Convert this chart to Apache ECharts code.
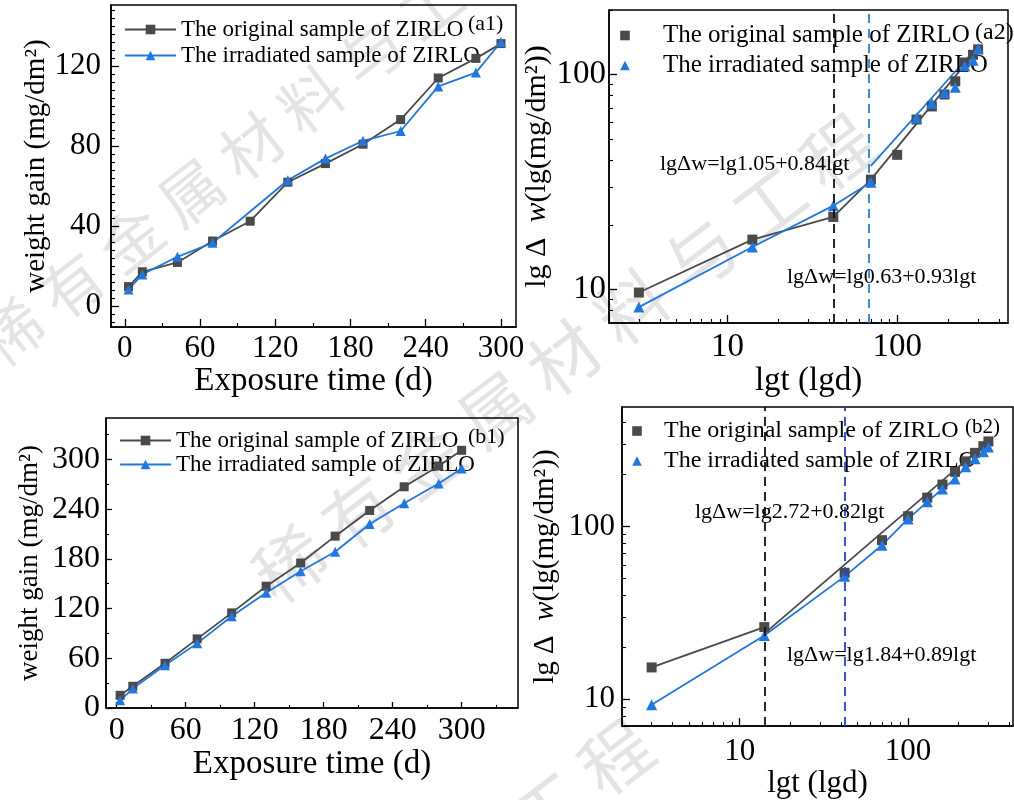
<!DOCTYPE html>
<html>
<head>
<meta charset="utf-8">
<script src="https://cdn.jsdelivr.net/npm/echarts@6/dist/echarts.min.js"></script>
<style>
html, body { margin: 0; padding: 0; background: #fff; }
#main { width: 1014px; height: 800px; }
</style>
</head>
<body>
<div id="main"></div>
<script>
// 暴露时间 (d)
var days = [3, 14, 42, 70, 100, 130, 160, 190, 220, 250, 280, 300];
// (a1)(a2) 增重 mg/dm2
var gainA_orig = [9.7, 17.1, 21.8, 32.5, 42.4, 61.9, 71.2, 80.9, 93.2, 114, 123.8, 131.2];
var gainA_irr = [8.3, 15.8, 24.6, 31.6, null, 62.9, 73.7, 82.6, 87.5, 109.8, 116.7, 132];
// (b1)(b2) 增重 mg/dm2
var gainB_orig = [15.3, 26.2, 54, 83.4, 114.8, 147, 175, 207.4, 238.4, 267, 292, 311];
var gainB_irr = [9.3, 23.4, 51.5, 78, 110.7, 139, 165, 188.5, 222, 247, 271, 289];

// 双对数图中的折线/拟合线
var fitA_orig_t = [3, 14, 42, 70, 300];
var fitA_orig_w = [9.7, 17.1, 21.8, 32.5, 133];
var fitA_irr_t = [3, 14, 42, 70];
var fitA_irr_w = [8.3, 15.8, 24.6, 31.6];
var fitA_irr2_t = [70, 300];
var fitA_irr2_w = [37.7, 136];
var fitB_orig_t = [3, 14];
var fitB_orig_w = [15.3, 26.2];
var fitB_orig2_t = [14, 300];
var fitB_orig2_w = [24, 312];

// 转折点虚线
var splitA = [42, 68];
var splitB = [14, 42];

// 刻度
var ticksX_lin = [0, 60, 120, 180, 240, 300];
var ticksYa1 = [0, 40, 80, 120];
var ticksYb1 = [0, 60, 120, 180, 240, 300];
var ticksLog = [10, 100];

var legendNames = ['The original sample of ZIRLO', 'The irradiated sample of ZIRLO'];
var panelTags = ['(a1)', '(a2)', '(b1)', '(b2)'];
var equations = ['lgΔw=lg1.05+0.84lgt', 'lgΔw=lg0.63+0.93lgt', 'lgΔw=lg2.72+0.82lgt', 'lgΔw=lg1.84+0.89lgt'];

var FONT = "'Liberation Serif', 'Times New Roman', serif";
var BLACK = '#4a4a4a';
var BLUE = '#1f78e2';

function pairs(xs, ys) {
  var out = [];
  for (var i = 0; i < xs.length; i++) {
    if (ys[i] != null) out.push([xs[i], ys[i]]);
  }
  return out;
}
function minorLin(min, max, step, majors) {
  var out = [];
  for (var v = Math.ceil(min / step) * step; v <= max; v += step) {
    if (majors.indexOf(v) < 0) out.push(v);
  }
  return out;
}
function minorLog(min, max) {
  var out = [];
  for (var p = 1; p <= 1000; p *= 10) {
    for (var k = 2; k <= 9; k++) {
      var v = k * p / 10;
      if (v >= min && v <= max) out.push(v);
    }
  }
  return out;
}

// 主轴（大刻度+标签）
function mainAxis(grid, pos, type, min, max, majors, o) {
  return {
    gridIndex: grid, position: pos, type: type, min: min, max: max, logBase: 10,
    axisLine: { show: true, onZero: false, lineStyle: { color: '#000', width: 1.5 } },
    axisTick: { inside: true, length: o.tickLen || 8, customValues: majors, lineStyle: { color: '#000', width: 1.3 } },
    axisLabel: { customValues: majors, color: '#000', fontFamily: FONT, fontSize: o.labelSize, margin: o.margin },
    splitLine: { show: false },
    name: o.name, nameLocation: 'middle', nameGap: o.nameGap,
    nameTextStyle: o.nameStyle
  };
}
// 叠加轴（小刻度）
function minorAxis(grid, pos, type, min, max, minors, len) {
  return {
    gridIndex: grid, position: pos, type: type, min: min, max: max, logBase: 10,
    axisLine: { show: false, onZero: false },
    axisTick: { inside: true, length: len, customValues: minors, lineStyle: { color: '#000', width: 1.1 } },
    axisLabel: { show: false },
    splitLine: { show: false }
  };
}

var grids = [
  { left: 111, right: 498, top: 5, bottom: 473 },
  { left: 609, right: 6, top: 10, bottom: 477 },
  { left: 106, right: 496, top: 418, bottom: 92 },
  { left: 622, right: 1, top: 407, bottom: 69 }
];
grids.forEach(function (g) { g.show = true; g.borderColor = '#000'; g.borderWidth = 1.5; g.backgroundColor = 'transparent'; });

var xName = { color: '#000', fontFamily: FONT, fontSize: 33 };
var yNameLin = function (s) { return { color: '#000', fontFamily: FONT, fontSize: s }; };
var yNameLog = function (s) {
  return {
    color: '#000', fontFamily: FONT, fontSize: s,
    rich: {
      n: { fontFamily: FONT, fontSize: s, color: '#000' },
      i: { fontFamily: FONT, fontSize: s, color: '#000', fontStyle: 'italic' }
    }
  };
};
var logYName = '{n|lg Δ  }{i|w}{n|(lg(mg/dm²))}';

var xAxes = [
  mainAxis(0, 'bottom', 'value', -11, 312, ticksX_lin, { labelSize: 31, margin: 6, name: 'Exposure time (d)', nameGap: 34, nameStyle: xName }),
  mainAxis(1, 'bottom', 'log', 2, 450, ticksLog, { labelSize: 33, margin: 8, name: 'lgt (lgd)', nameGap: 40, nameStyle: xName }),
  mainAxis(2, 'bottom', 'value', -9.3, 349, ticksX_lin, { labelSize: 32, tickLen: 6, margin: 7, name: 'Exposure time (d)', nameGap: 40, nameStyle: xName }),
  mainAxis(3, 'bottom', 'log', 2, 420, ticksLog, { labelSize: 31, margin: 10, name: 'lgt (lgd)', nameGap: 37, nameStyle: { color: '#000', fontFamily: FONT, fontSize: 31 } }),
  minorAxis(0, 'bottom', 'value', -11, 312, minorLin(-11, 312, 30, ticksX_lin), 4),
  minorAxis(1, 'bottom', 'log', 2, 450, minorLog(2, 450), 4),
  minorAxis(2, 'bottom', 'value', -9.3, 349, minorLin(-9.3, 349, 30, ticksX_lin), 3),
  minorAxis(3, 'bottom', 'log', 2, 420, minorLog(2, 420), 4)
];
var yAxes = [
  mainAxis(0, 'left', 'value', -10.5, 150.5, ticksYa1, { labelSize: 31, margin: 10, name: 'weight gain (mg/dm²)', nameGap: 58, nameStyle: yNameLin(29) }),
  mainAxis(1, 'left', 'log', 7, 200, ticksLog, { labelSize: 33, margin: 3, name: logYName, nameGap: 50, nameStyle: yNameLog(30) }),
  mainAxis(2, 'left', 'value', 0, 350, ticksYb1, { labelSize: 32, tickLen: 6, margin: 6, name: 'weight gain (mg/dm²)', nameGap: 63, nameStyle: yNameLin(27) }),
  mainAxis(3, 'left', 'log', 7, 492, ticksLog, { labelSize: 31, margin: 7, name: logYName, nameGap: 62, nameStyle: yNameLog(29) }),
  minorAxis(0, 'left', 'value', -10.5, 150.5, minorLin(-10.5, 150.5, 4, ticksYa1), 4),
  minorAxis(1, 'left', 'log', 7, 200, minorLog(7, 200), 4),
  minorAxis(2, 'left', 'value', 0, 350, minorLin(0, 350, 30, ticksYb1), 3),
  minorAxis(3, 'left', 'log', 7, 492, minorLog(7, 492), 4)
];

// 带标记的数据序列
function markSeries(id, grid, xs, ys, shape, size, color, withLine) {
  return {
    id: id, name: id, type: 'line', xAxisIndex: grid, yAxisIndex: grid,
    data: pairs(xs, ys), symbol: shape, symbolSize: size, showSymbol: true,
    itemStyle: { color: color }, z: 4,
    lineStyle: { color: color, width: withLine ? 1.8 : 0 },
    emphasis: { disabled: true }, animation: false
  };
}
function fitSeries(id, grid, xs, ys, color) {
  return {
    id: id, type: 'line', xAxisIndex: grid, yAxisIndex: grid,
    data: pairs(xs, ys), symbol: 'none', z: 3,
    lineStyle: { color: color, width: 1.8 }, animation: false
  };
}
function dashLines(id, grid, xs) {
  return {
    id: id, type: 'line', xAxisIndex: grid, yAxisIndex: grid, data: [], animation: false,
    markLine: {
      silent: true, symbol: ['none', 'none'], label: { show: false }, animation: false,
      data: [
        { xAxis: xs[0], lineStyle: { color: '#111', type: [9, 6], width: 1.8 } },
        { xAxis: xs[1], lineStyle: { color: id === 'dashA' ? '#2a7fe0' : '#2040e8', type: [9, 6], width: 1.8 } }
      ]
    }
  };
}

var series = [
  markSeries('a1o', 0, days, gainA_orig, 'rect', 9, BLACK, true),
  markSeries('a1i', 0, days, gainA_irr, 'triangle', 10, BLUE, true),
  fitSeries('a2of', 1, fitA_orig_t, fitA_orig_w, BLACK),
  fitSeries('a2if', 1, fitA_irr_t, fitA_irr_w, BLUE),
  fitSeries('a2if2', 1, fitA_irr2_t, fitA_irr2_w, BLUE),
  dashLines('dashA', 1, splitA),
  markSeries('a2o', 1, days, gainA_orig, 'rect', 10, BLACK, false),
  markSeries('a2i', 1, days, gainA_irr, 'triangle', 11, BLUE, false),
  markSeries('b1o', 2, days, gainB_orig, 'rect', 9, BLACK, true),
  markSeries('b1i', 2, days, gainB_irr, 'triangle', 10, BLUE, true),
  fitSeries('b2of', 3, fitB_orig_t, fitB_orig_w, BLACK),
  fitSeries('b2of2', 3, fitB_orig2_t, fitB_orig2_w, BLACK),
  fitSeries('b2if', 3, days, gainB_irr, BLUE),
  dashLines('dashB', 3, splitB),
  markSeries('b2o', 3, days, gainB_orig, 'rect', 10, BLACK, false),
  markSeries('b2i', 3, days, gainB_irr, 'triangle', 11, BLUE, false)
];

function legendAt(keys, left, top, itemW, fontSize, gap, hideLine) {
  return {
    orient: 'vertical', left: left, top: top, padding: 0, itemGap: gap,
    itemWidth: itemW, itemHeight: 12, selectedMode: false,
    data: keys,
    formatter: function (name) { return legendNames[name.charAt(2) === 'o' ? 0 : 1]; },
    textStyle: { color: '#000', fontFamily: FONT, fontSize: fontSize },
    lineStyle: hideLine ? { opacity: 0 } : {}
  };
}
var legends = [
  legendAt(['a1o', 'a1i'], 124, 18, 51, 23, 3, false),
  legendAt(['a2o', 'a2i'], 592, 23, 66, 25, 5, true),
  legendAt(['b1o', 'b1i'], 119, 429, 51, 23, 1, false),
  legendAt(['b2o', 'b2i'], 615, 419, 44, 24, 6, true)
];

function txt(s, x, y, size) {
  return {
    type: 'text', x: x, y: y, z: 50, silent: true,
    style: { text: s, fill: '#000', font: size + 'px ' + FONT, textVerticalAlign: 'middle' }
  };
}
function mark(s, x, y, size, rot) {
  return {
    type: 'text', x: x, y: y, rotation: rot, z: -10, silent: true,
    style: { text: s, fill: '#e4e4e4', font: size + "px 'Noto Sans CJK SC'", textVerticalAlign: 'middle' }
  };
}
var wm = '稀 有 金 属 材 料 与 工 程';
var graphics = [
  mark(wm, -13, 351, 62, 0.66),
  mark(wm, 262, 585, 70, 0.645),
  mark(wm, 40, 1190, 70, 0.645),
  txt(panelTags[0], 468, 24, 22),
  txt(panelTags[1], 975, 33, 24),
  txt(panelTags[2], 468, 437, 22),
  txt(panelTags[3], 965, 427, 21),
  txt(equations[0], 660, 164, 22),
  txt(equations[1], 787, 277, 22),
  txt(equations[2], 695, 512, 22),
  txt(equations[3], 787, 655, 22)
];

var chart = echarts.init(document.getElementById('main'), null, { renderer: 'canvas' });
chart.setOption({
  backgroundColor: '#fff',
  animation: false,
  grid: grids,
  xAxis: xAxes,
  yAxis: yAxes,
  legend: legends,
  graphic: graphics,
  series: series
});
</script>
</body>
</html>
